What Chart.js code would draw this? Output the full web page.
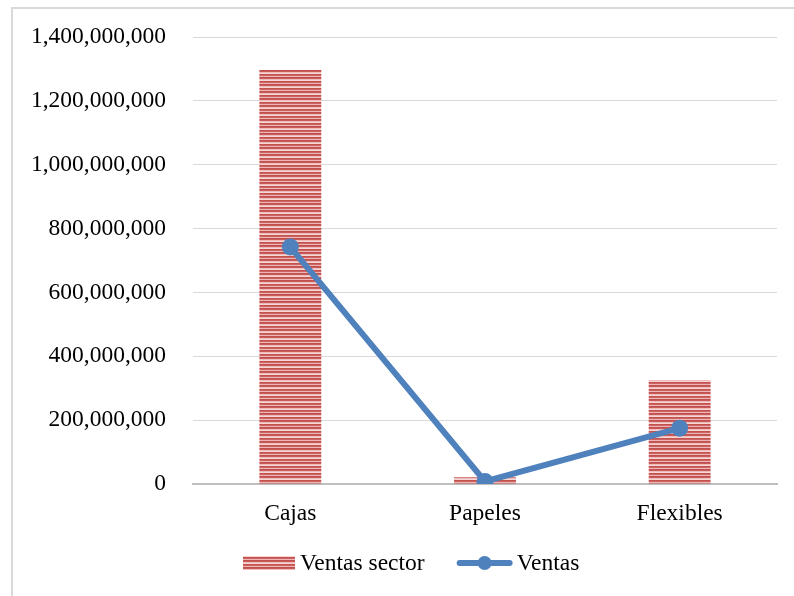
<!DOCTYPE html>
<html>
<head>
<meta charset="utf-8">
<script src="https://cdn.jsdelivr.net/npm/chart.js@4.4.1/dist/chart.umd.min.js"></script>
<style>
  html, body { margin: 0; padding: 0; background: #ffffff; }
  #wrap { position: relative; width: 794px; height: 596px; overflow: hidden; }
  #frame { position: absolute; left: 11px; top: 7px; width: 900px; height: 700px;
           border: 2px solid #d9d9d9; box-sizing: border-box; }
  canvas { position: absolute; left: 0; top: 0; }
</style>
</head>
<body>
<div id="wrap">
  <div id="frame"></div>
  <canvas id="chart" width="794" height="596"></canvas>
</div>
<script>
// Categories and series
const categories = ['Cajas', 'Papeles', 'Flexibles'];
const ventasSector = [1297000000, 21000000, 326000000];
const ventas = [742000000, 8000000, 175000000];
const yTicks = [0, 200000000, 400000000, 600000000, 800000000, 1000000000, 1200000000, 1400000000];

const FONT = '"Liberation Serif", "Times New Roman", serif';
const FONT_SIZE = 23.5;
const BLUE = '#4f81bd';

// Horizontal striped fill for the bars
function stripePattern() {
  const c = document.createElement('canvas');
  c.width = 8; c.height = 7;
  const g = c.getContext('2d');
  const rows = ['#c0504d', '#c65b59', '#efbcbb', '#f6d6d5', '#c3524f', '#cb6462', '#eeb6b5'];
  rows.forEach((col, i) => { g.fillStyle = col; g.fillRect(0, i, 8, 1); });
  return g.createPattern(c, 'repeat');
}

// Legend drawn below the plot: striped box for bars, line with dot for the line series
const bottomLegend = {
  id: 'bottomLegend',
  afterDraw(chart) {
    const ctx = chart.ctx;
    const y = 563;
    const bars = chart.data.datasets.find(d => d.type === 'bar');
    const line = chart.data.datasets.find(d => d.type === 'line');
    ctx.save();
    ctx.font = FONT_SIZE + 'px ' + FONT;
    ctx.textBaseline = 'middle';
    let x = 243;
    ctx.fillStyle = bars.backgroundColor;
    ctx.fillRect(x, y - 7, 52, 14);
    x += 57;
    ctx.fillStyle = '#000';
    ctx.fillText(bars.label, x, y + 1);
    x += ctx.measureText(bars.label).width + 32;
    ctx.strokeStyle = line.borderColor;
    ctx.lineWidth = 6;
    ctx.lineCap = 'round';
    ctx.beginPath(); ctx.moveTo(x + 3, y); ctx.lineTo(x + 53, y); ctx.stroke();
    ctx.fillStyle = line.borderColor;
    ctx.beginPath(); ctx.arc(x + 28, y, 7, 0, Math.PI * 2); ctx.fill();
    x += 60;
    ctx.fillStyle = '#000';
    ctx.fillText(line.label, x, y + 1);
    ctx.restore();
  }
};

new Chart(document.getElementById('chart'), {
  data: {
    labels: categories,
    datasets: [
      {
        type: 'line',
        label: 'Ventas',
        data: ventas,
        borderColor: BLUE,
        backgroundColor: BLUE,
        borderWidth: 6,
        pointRadius: 8.5,
        pointHoverRadius: 8.5,
        pointBackgroundColor: BLUE,
        pointBorderWidth: 0,
        tension: 0,
        order: 0
      },
      {
        type: 'bar',
        label: 'Ventas sector',
        data: ventasSector,
        backgroundColor: stripePattern(),
        borderWidth: 0,
        categoryPercentage: 1,
        barPercentage: 0.318,
        order: 1
      }
    ]
  },
  options: {
    responsive: false,
    animation: false,
    layout: { padding: { left: 0, right: 17, top: 37, bottom: 62 } },
    plugins: { legend: { display: false }, tooltip: { enabled: false } },
    scales: {
      x: {
        grid: { display: false },
        border: { display: true, color: '#bfbfbf', width: 2 },
        ticks: { color: '#000', font: { family: FONT, size: FONT_SIZE }, padding: 8 },
        afterFit(s) { s.height = 50; }
      },
      y: {
        min: 0,
        max: 1400000000,
        afterBuildTicks(s) { s.ticks = yTicks.map(v => ({ value: v })); },
        // invisible tick marks keep the labels clear of the plot
        grid: { color: '#d9d9d9', lineWidth: 1, drawTicks: true, tickLength: 27, tickColor: 'rgba(0,0,0,0)' },
        border: { display: false },
        ticks: {
          color: '#000',
          font: { family: FONT, size: FONT_SIZE },
          padding: 0,
          callback: v => Number(v).toLocaleString('en-US')
        },
        afterFit(s) { s.width = 193; }
      }
    }
  },
  plugins: [bottomLegend]
});
</script>
</body>
</html>
